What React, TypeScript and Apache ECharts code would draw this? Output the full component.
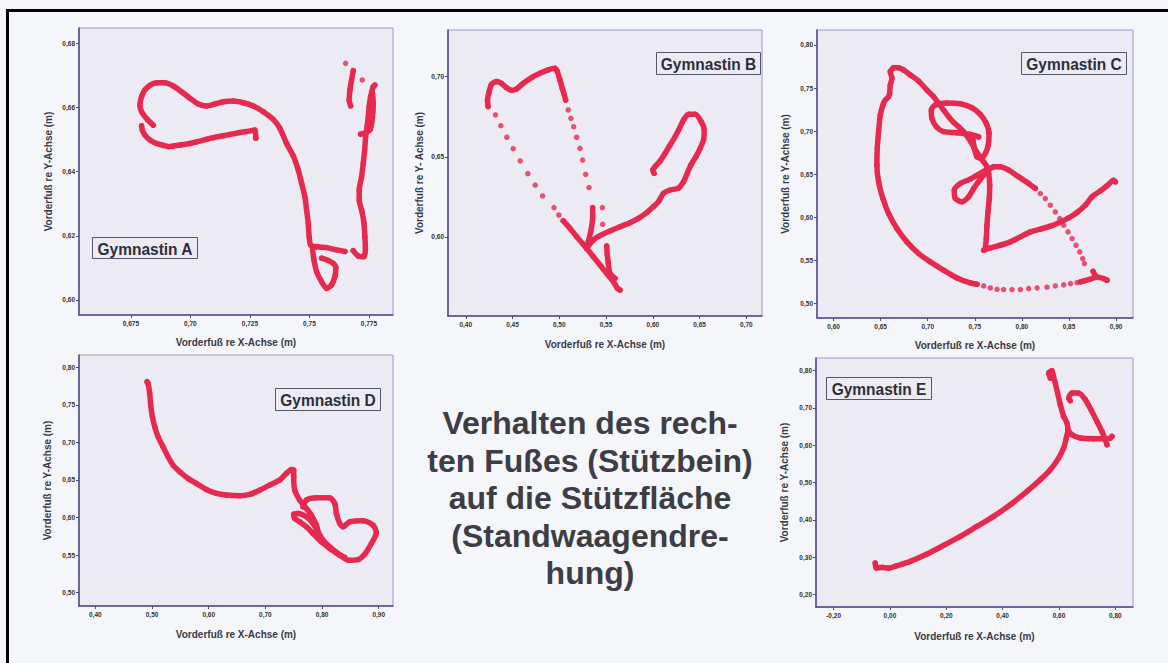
import React, { useEffect, useRef } from "react";
import * as echarts from "echarts";

// ---------- DATA ----------
// Gymnastin A
const A_X_TICKS = [0.675, 0.7, 0.725, 0.75, 0.775];
const A_X_LABELS = ["0,675", "0,70", "0,725", "0,75", "0,775"];
const A_Y_TICKS = [0.6, 0.62, 0.64, 0.66, 0.68];
const A_Y_LABELS = ["0,60", "0,62", "0,64", "0,66", "0,68"];
const A_TRACK_1 = [[0.7275, 0.6504], [0.7271, 0.653], [0.7236, 0.6525], [0.7208, 0.6522], [0.7166, 0.6516], [0.7138, 0.6512], [0.7096, 0.6506], [0.7068, 0.6501], [0.7026, 0.6493], [0.6998, 0.6488], [0.6956, 0.6483], [0.6928, 0.648], [0.6907, 0.6478], [0.6886, 0.6482], [0.6858, 0.6488], [0.683, 0.6499], [0.6809, 0.6514], [0.6798, 0.653], [0.6795, 0.6543]];
const A_TRACK_2 = [[0.6844, 0.6545], [0.6819, 0.6563], [0.6795, 0.6587], [0.6788, 0.6608], [0.6795, 0.6634], [0.6809, 0.6655], [0.683, 0.6669], [0.6858, 0.6677], [0.6893, 0.6677], [0.6928, 0.6667], [0.6963, 0.6649], [0.6998, 0.6629], [0.7033, 0.6611], [0.7068, 0.6605], [0.7103, 0.6611], [0.7138, 0.6618], [0.718, 0.662], [0.7222, 0.6615], [0.7264, 0.6605], [0.7306, 0.6587], [0.7348, 0.6563], [0.7376, 0.6535], [0.7404, 0.6488], [0.7432, 0.6449], [0.7453, 0.6405], [0.7467, 0.6364], [0.7481, 0.6322], [0.7488, 0.628], [0.7495, 0.6239], [0.7499, 0.6197], [0.7505, 0.6171], [0.753, 0.6166], [0.7572, 0.6163], [0.7614, 0.6156], [0.7649, 0.6151]];
const A_TRACK_3 = [[0.7513, 0.6156], [0.7519, 0.6125], [0.753, 0.6088], [0.7551, 0.6057], [0.7572, 0.6036], [0.7593, 0.6047], [0.7607, 0.6073], [0.7611, 0.6102], [0.76, 0.6114], [0.7579, 0.6123], [0.7551, 0.613]];
const A_TRACK_4 = [[0.7684, 0.6154], [0.7705, 0.6137], [0.7729, 0.6135], [0.7735, 0.6161], [0.7733, 0.6197], [0.7729, 0.6239], [0.7721, 0.6275], [0.7709, 0.6312], [0.7709, 0.6343], [0.7719, 0.6384], [0.7726, 0.6426], [0.7732, 0.6468], [0.7736, 0.6509], [0.774, 0.653], [0.7747, 0.6571], [0.7751, 0.6603], [0.7757, 0.6634], [0.7768, 0.6665], [0.7775, 0.667]];
const A_TRACK_5 = [[0.7715, 0.6517], [0.7754, 0.653], [0.7765, 0.6571], [0.7768, 0.6613], [0.7765, 0.6644]];
const A_TRACK_6 = [[0.7684, 0.6715], [0.7677, 0.6686], [0.767, 0.6655], [0.7667, 0.6623], [0.7673, 0.6605]];
const A_DOTS = [[0.7652, 0.6738], [0.7722, 0.6686]];

// Gymnastin B
const B_X_TICKS = [0.4, 0.45, 0.5, 0.55, 0.6, 0.65, 0.7];
const B_X_LABELS = ["0,40", "0,45", "0,50", "0,55", "0,60", "0,65", "0,70"];
const B_Y_TICKS = [0.6, 0.65, 0.7];
const B_Y_LABELS = ["0,60", "0,65", "0,70"];
const B_TRACK_1 = [[0.4239, 0.6813], [0.4232, 0.6854], [0.425, 0.6906], [0.4275, 0.6952], [0.4329, 0.6969], [0.4382, 0.6958], [0.4436, 0.6931], [0.4489, 0.6915], [0.4543, 0.6923], [0.4614, 0.6958], [0.4704, 0.6994], [0.4793, 0.7021], [0.4882, 0.7042], [0.4954, 0.7052], [0.4979, 0.7031], [0.5007, 0.6979], [0.5032, 0.6927], [0.5054, 0.6886], [0.5068, 0.6854]];
const B_TRACK_2 = [[0.5043, 0.61], [0.5114, 0.6054], [0.5186, 0.6002], [0.5257, 0.5954], [0.5293, 0.5929], [0.5364, 0.5877], [0.5436, 0.5825], [0.5507, 0.5773], [0.5579, 0.5721], [0.5621, 0.568], [0.565, 0.5669]];
const B_TRACK_3 = [[0.5357, 0.6183], [0.5357, 0.6116], [0.5336, 0.6033], [0.5311, 0.5971], [0.5293, 0.5929]];
const B_TRACK_4 = [[0.5293, 0.5929], [0.5364, 0.5981], [0.5436, 0.6008], [0.5543, 0.6037], [0.565, 0.6064], [0.5757, 0.6089], [0.5846, 0.6116], [0.5936, 0.6152], [0.6007, 0.6189], [0.6061, 0.622], [0.6114, 0.6272], [0.6186, 0.6293], [0.6275, 0.6304], [0.6329, 0.6345], [0.6364, 0.6391], [0.6407, 0.6449], [0.6461, 0.6501], [0.6507, 0.6553], [0.6543, 0.6605], [0.655, 0.6667], [0.6518, 0.6719], [0.6454, 0.6765], [0.6382, 0.6765], [0.6329, 0.673], [0.6286, 0.6678], [0.6239, 0.6626], [0.6186, 0.6574], [0.6132, 0.6522], [0.6079, 0.6474], [0.6025, 0.6439], [0.6, 0.6418], [0.6014, 0.6397]];
const B_TRACK_5 = [[0.5507, 0.5944], [0.5514, 0.5888], [0.5525, 0.5836], [0.5543, 0.5773], [0.5596, 0.5742]];
const B_DOTS = [[0.5096, 0.6792], [0.5125, 0.674], [0.5154, 0.6688], [0.5186, 0.6622], [0.5221, 0.6553], [0.525, 0.648], [0.5282, 0.6391], [0.5318, 0.6308], [0.4318, 0.6761], [0.4375, 0.6694], [0.4439, 0.6622], [0.4507, 0.6551], [0.4582, 0.6474], [0.4664, 0.6395], [0.4743, 0.6324], [0.4821, 0.6256], [0.4943, 0.6183], [0.4996, 0.6137], [0.5043, 0.61], [0.5461, 0.6183], [0.5464, 0.6079]];

// Gymnastin C
const C_X_TICKS = [0.6, 0.65, 0.7, 0.75, 0.8, 0.85, 0.9];
const C_X_LABELS = ["0,60", "0,65", "0,70", "0,75", "0,80", "0,85", "0,90"];
const C_Y_TICKS = [0.5, 0.55, 0.6, 0.65, 0.7, 0.75, 0.8];
const C_Y_LABELS = ["0,50", "0,55", "0,60", "0,65", "0,70", "0,75", "0,80"];
const C_TRACK_1 = [[0.6638, 0.7737], [0.6602, 0.769], [0.662, 0.7613], [0.6602, 0.7535], [0.6595, 0.7439], [0.6584, 0.74], [0.6549, 0.7361], [0.6524, 0.7303], [0.6496, 0.7187], [0.6478, 0.6994], [0.6464, 0.68], [0.646, 0.6606], [0.6478, 0.6413], [0.6524, 0.6219], [0.6584, 0.6045], [0.6673, 0.5871], [0.6779, 0.5716], [0.6903, 0.5581], [0.7027, 0.5484], [0.7169, 0.5387], [0.7311, 0.5298], [0.7452, 0.524], [0.7523, 0.5225]];
const C_TRACK_2 = [[0.6638, 0.7737], [0.6691, 0.7737], [0.6744, 0.771], [0.6815, 0.7652], [0.6903, 0.7582], [0.6992, 0.7477], [0.7063, 0.74], [0.7116, 0.7323], [0.7169, 0.7245], [0.7222, 0.7168], [0.7275, 0.7102], [0.7328, 0.7052], [0.7381, 0.6994], [0.7435, 0.6916], [0.7488, 0.6819], [0.7541, 0.6723], [0.7594, 0.6645], [0.7629, 0.6587], [0.7647, 0.651], [0.7658, 0.6374], [0.7654, 0.6219], [0.764, 0.6064], [0.7629, 0.591], [0.7622, 0.5755], [0.7612, 0.5639]];
const C_TRACK_3 = [[0.7541, 0.6935], [0.7452, 0.6963], [0.7311, 0.6982], [0.7169, 0.6994], [0.7091, 0.7052], [0.7045, 0.7148], [0.7038, 0.7245], [0.708, 0.7303], [0.7204, 0.7326], [0.7346, 0.7319], [0.747, 0.7272], [0.7558, 0.7195], [0.7622, 0.709], [0.7651, 0.6974], [0.7643, 0.6839], [0.7612, 0.6742], [0.7566, 0.6684], [0.7523, 0.6703], [0.7495, 0.68], [0.7481, 0.6897]];
const C_TRACK_4 = [[0.7647, 0.6568], [0.7558, 0.651], [0.7452, 0.6444], [0.7346, 0.6394], [0.7282, 0.6316], [0.7293, 0.6219], [0.7364, 0.6181], [0.7435, 0.6239], [0.7488, 0.6336], [0.7551, 0.6432], [0.7629, 0.6529], [0.77, 0.6587], [0.7771, 0.6587], [0.786, 0.6548], [0.7966, 0.6471], [0.8072, 0.6394], [0.8143, 0.6336]];
const C_TRACK_5 = [[0.7594, 0.5619], [0.7665, 0.5646], [0.7771, 0.5677], [0.7877, 0.5716], [0.7984, 0.5774], [0.809, 0.5832], [0.8196, 0.5863], [0.8302, 0.5898], [0.8409, 0.5948], [0.8497, 0.5995], [0.8586, 0.6057], [0.8674, 0.6142], [0.8745, 0.6239], [0.8834, 0.6308], [0.8904, 0.6367], [0.8975, 0.6432], [0.8993, 0.6413]];
const C_TRACK_6 = [[0.8621, 0.5252], [0.8727, 0.5283], [0.8798, 0.531], [0.8869, 0.529], [0.8904, 0.5271]];
const C_TRACK_7 = [[0.8756, 0.5375], [0.878, 0.5321]];
const C_DOTS = [[0.7594, 0.5205], [0.7665, 0.5182], [0.7736, 0.5166], [0.7806, 0.5163], [0.7895, 0.5163], [0.7984, 0.5163], [0.8072, 0.5174], [0.8161, 0.5182], [0.8267, 0.519], [0.8355, 0.5205], [0.8444, 0.5217], [0.8515, 0.5232], [0.8586, 0.5244], [0.8657, 0.5259], [0.8196, 0.6277], [0.8249, 0.6219], [0.8302, 0.6142], [0.8355, 0.6064], [0.8402, 0.5987], [0.8444, 0.591], [0.849, 0.5832], [0.8533, 0.5755], [0.8575, 0.5677], [0.8614, 0.56], [0.8646, 0.5523], [0.8664, 0.5465]];

// Gymnastin D
const D_X_TICKS = [0.4, 0.5, 0.6, 0.7, 0.8, 0.9];
const D_X_LABELS = ["0,40", "0,50", "0,60", "0,70", "0,80", "0,90"];
const D_Y_TICKS = [0.5, 0.55, 0.6, 0.65, 0.7, 0.75, 0.8];
const D_Y_LABELS = ["0,50", "0,55", "0,60", "0,65", "0,70", "0,75", "0,80"];
const D_TRACK_1 = [[0.4912, 0.7809], [0.4929, 0.7787], [0.4959, 0.7653], [0.4976, 0.7498], [0.5006, 0.7342], [0.5047, 0.7209], [0.5106, 0.7076], [0.5194, 0.6942], [0.5282, 0.6809], [0.5371, 0.6698], [0.5488, 0.6609], [0.5635, 0.652], [0.5782, 0.6453], [0.5959, 0.6373], [0.6135, 0.632], [0.6312, 0.6298], [0.6547, 0.6289], [0.6724, 0.6307], [0.69, 0.6364], [0.7076, 0.6431], [0.7253, 0.6498], [0.7371, 0.6587], [0.7459, 0.664], [0.75, 0.6631], [0.75, 0.6542], [0.7518, 0.6364], [0.7606, 0.6231], [0.7724, 0.612], [0.7812, 0.6031], [0.79, 0.5898], [0.7929, 0.5809]];
const D_TRACK_2 = [[0.7665, 0.6142], [0.7724, 0.6231], [0.79, 0.6262], [0.8135, 0.6262], [0.8224, 0.6187], [0.8253, 0.6053], [0.8312, 0.592], [0.8371, 0.5876], [0.8488, 0.5942], [0.8724, 0.5956], [0.89, 0.5898], [0.8959, 0.5796], [0.8871, 0.5653], [0.8753, 0.5511], [0.8635, 0.544], [0.8459, 0.5431], [0.8312, 0.5498], [0.8135, 0.5587], [0.7988, 0.5676], [0.7841, 0.5787], [0.7724, 0.5876], [0.7606, 0.5942], [0.7518, 0.5987], [0.75, 0.6044], [0.7576, 0.6053], [0.7724, 0.6009], [0.7841, 0.592], [0.7929, 0.5809], [0.8018, 0.5698], [0.8135, 0.5609], [0.8282, 0.552], [0.84, 0.5467]];

// Gymnastin E
const E_X_TICKS = [-0.2, 0, 0.2, 0.4, 0.6, 0.8];
const E_X_LABELS = ["-0,20", "0,00", "0,20", "0,40", "0,60", "0,80"];
const E_Y_TICKS = [0.2, 0.3, 0.4, 0.5, 0.6, 0.7, 0.8];
const E_Y_LABELS = ["0,20", "0,30", "0,40", "0,50", "0,60", "0,70", "0,80"];
const E_TRACK_1 = [[-0.0521, 0.2847], [-0.0485, 0.2713], [-0.0284, 0.2731], [-0.0047, 0.2713], [0.0248, 0.2776], [0.0722, 0.2892], [0.1314, 0.3088], [0.1905, 0.3319], [0.2497, 0.356], [0.3089, 0.3828], [0.368, 0.4095], [0.4272, 0.4407], [0.4864, 0.4764], [0.5337, 0.5076], [0.5692, 0.5343], [0.5988, 0.5655], [0.6165, 0.5923], [0.626, 0.619], [0.6319, 0.6413], [0.6284, 0.6591], [0.6165, 0.677]];
const E_TRACK_2 = [[0.6165, 0.677], [0.6047, 0.7082], [0.5952, 0.7394], [0.587, 0.7661], [0.5787, 0.7884], [0.5751, 0.7991], [0.5633, 0.7929], [0.5692, 0.7795]];
const E_TRACK_3 = [[0.6319, 0.6413], [0.6461, 0.6279], [0.6757, 0.619], [0.7231, 0.6172], [0.7704, 0.6172], [0.7822, 0.619], [0.7881, 0.6235]];
const E_TRACK_4 = [[0.7704, 0.6012], [0.7645, 0.6146], [0.7526, 0.6368], [0.7349, 0.6636], [0.7136, 0.6948], [0.6935, 0.7215], [0.6698, 0.7394], [0.6461, 0.7394], [0.6343, 0.726], [0.6402, 0.7189]];

const TITLE_LINES = ["Verhalten des rech-", "ten Fußes (Stützbein)", "auf die Stützfläche", "(Standwaagendre-", "hung)"];
const X_NAME = "Vorderfuß re X-Achse (m)";
const Y_NAME = "Vorderfuß re Y-Achse (m)";
const Y_NAME_B = "Vorderfuß re Y- Achse (m)";

// ---------- LAYOUT / STYLE ----------
const RED = "#E62A4F";
const AXIS = "#4E4986";
const PLOT_BG = "#ECEBF3";
const PAGE_BG = "#F4F6FA";
const FONT = "'Liberation Sans', Arial, sans-serif";

const panels = [
  { label: "Gymnastin A", grid: { left: 79, top: 28, width: 314, height: 287 }, x: [0.6532, 0.7851], y: [0.5953, 0.6848], xt: A_X_TICKS, xl: A_X_LABELS, yt: A_Y_TICKS, yl: A_Y_LABELS, tracks: [A_TRACK_1, A_TRACK_2, A_TRACK_3, A_TRACK_4, A_TRACK_5, A_TRACK_6], dots: A_DOTS, yName: Y_NAME, box: [92, 237, 105, 21], xGap: 22, yGap: 26 },
  { label: "Gymnastin B", grid: { left: 448, top: 30, width: 314, height: 286 }, x: [0.381, 0.7168], y: [0.5507, 0.7291], xt: B_X_TICKS, xl: B_X_LABELS, yt: B_Y_TICKS, yl: B_Y_LABELS, tracks: [B_TRACK_1, B_TRACK_2, B_TRACK_3, B_TRACK_4, B_TRACK_5], dots: B_DOTS, yName: Y_NAME_B, box: [656, 52, 104, 22], xGap: 23, yGap: 24 },
  { label: "Gymnastin C", grid: { left: 817, top: 30, width: 316, height: 288 }, x: [0.5824, 0.918], y: [0.4833, 0.8174], xt: C_X_TICKS, xl: C_X_LABELS, yt: C_Y_TICKS, yl: C_Y_LABELS, tracks: [C_TRACK_1, C_TRACK_2, C_TRACK_3, C_TRACK_4, C_TRACK_5, C_TRACK_6, C_TRACK_7], dots: C_DOTS, yName: Y_NAME, box: [1021, 52, 105, 22], xGap: 22, yGap: 27 },
  { label: "Gymnastin D", grid: { left: 79, top: 355, width: 314, height: 251 }, x: [0.3711, 0.9252], y: [0.4821, 0.8164], xt: D_X_TICKS, xl: D_X_LABELS, yt: D_Y_TICKS, yl: D_Y_LABELS, tracks: [D_TRACK_1, D_TRACK_2], dots: [], yName: Y_NAME, box: [275, 388, 105, 22], xGap: 23, yGap: 27 },
  { label: "Gymnastin E", grid: { left: 816, top: 358, width: 317, height: 249 }, x: [-0.2625, 0.8628], y: [0.1671, 0.8332], xt: E_X_TICKS, xl: E_X_LABELS, yt: E_Y_TICKS, yl: E_Y_LABELS, tracks: [E_TRACK_1, E_TRACK_2, E_TRACK_3, E_TRACK_4], dots: [], yName: Y_NAME, box: [826, 377, 105, 22], xGap: 24, yGap: 27 },
];

function fmt(ticks: number[], labels: string[]) {
  return (v: number) => {
    const i = ticks.findIndex((t) => Math.abs(t - v) < 1e-6);
    return i >= 0 ? labels[i] : "";
  };
}

function buildOption() {
  const grid: any[] = [];
  const xAxis: any[] = [];
  const yAxis: any[] = [];
  const series: any[] = [];
  const graphic: any[] = [];

  panels.forEach((p, i) => {
    grid.push({ ...p.grid, show: true, backgroundColor: PLOT_BG, borderColor: "#9C98C8", borderWidth: 1 });
    const common = {
      type: "value",
      gridIndex: i,
      nameLocation: "middle",
      nameTextStyle: { fontFamily: FONT, fontSize: 10, fontWeight: "bold", color: "#3A3A46" },
      axisLine: { show: true, onZero: false, lineStyle: { color: AXIS, width: 1.5 } },
      splitLine: { show: false },
    };
    xAxis.push({
      ...common,
      min: p.x[0], max: p.x[1],
      name: X_NAME, nameGap: p.xGap,
      axisTick: { show: true, customValues: p.xt, length: 3, lineStyle: { color: AXIS } },
      axisLabel: { customValues: p.xt, formatter: fmt(p.xt, p.xl), fontFamily: FONT, fontSize: 6.5, fontWeight: "bold", color: "#333", margin: 5 },
    });
    yAxis.push({
      ...common,
      min: p.y[0], max: p.y[1],
      name: p.yName, nameGap: p.yGap, nameRotate: 90,
      axisTick: { show: true, customValues: p.yt, length: 3, lineStyle: { color: AXIS } },
      axisLabel: { customValues: p.yt, formatter: fmt(p.yt, p.yl), fontFamily: FONT, fontSize: 6.5, fontWeight: "bold", color: "#333", margin: 4 },
    });
    p.tracks.forEach((t) => {
      series.push({
        type: "line", xAxisIndex: i, yAxisIndex: i, data: t, smooth: 0.25,
        symbol: "circle", symbolSize: 5.5, showSymbol: true,
        itemStyle: { color: RED },
        lineStyle: { color: RED, width: 5.5, cap: "round", join: "round" },
        silent: true, z: 3,
      });
    });
    if (p.dots.length) {
      series.push({
        type: "scatter", xAxisIndex: i, yAxisIndex: i, data: p.dots,
        symbol: "circle", symbolSize: 5.5, itemStyle: { color: RED }, silent: true, z: 3,
      });
    }
    const [bx, by, bw, bh] = p.box;
    graphic.push({ type: "rect", z: 10, shape: { x: bx + 0.5, y: by + 0.5, width: bw, height: bh }, style: { fill: PLOT_BG, stroke: "#55556A", lineWidth: 1 } });
    graphic.push({ type: "text", z: 11, x: bx + bw / 2 + 0.5, y: by + bh / 2 + 1, scaleY: 1.12, style: { text: p.label, fontFamily: FONT, fontSize: 15.5, fontWeight: "bold", fill: "#2E2E3A", align: "center", verticalAlign: "middle" } });
  });

  graphic.push({ type: "rect", z: 20, shape: { x: 7.5, y: 10.5, width: 1300, height: 800 }, style: { fill: "none", stroke: "#000", lineWidth: 3 } });
  graphic.push({
    type: "text", z: 11, x: 590, y: 498,
    style: { text: TITLE_LINES.join("\n"), fontFamily: FONT, fontSize: 32, fontWeight: "bold", fill: "#3D3D45", align: "center", verticalAlign: "middle", lineHeight: 37.5 },
  });

  return { animation: false, backgroundColor: PAGE_BG, grid, xAxis, yAxis, series, graphic };
}

export default function App() {
  const ref = useRef<HTMLDivElement>(null);
  useEffect(() => {
    if (!ref.current) return;
    const chart = echarts.init(ref.current, undefined, { renderer: "svg" });
    chart.setOption(buildOption() as any);
    return () => chart.dispose();
  }, []);
  return <div ref={ref} style={{ position: "fixed", left: 0, top: 0, width: 1168, height: 663 }} />;
}
